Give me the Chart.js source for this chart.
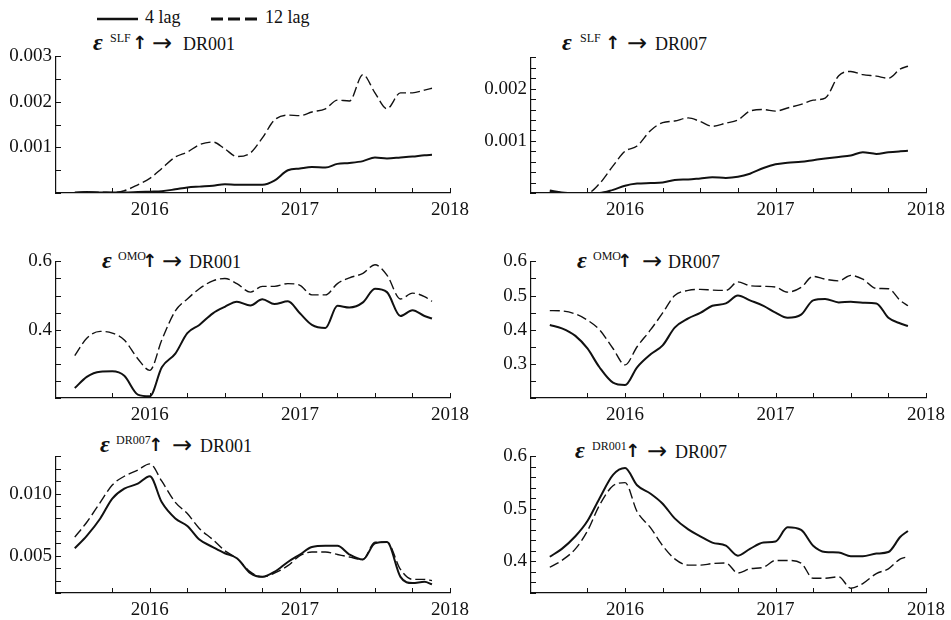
<!DOCTYPE html>
<html>
<head>
<meta charset="utf-8">
<script src="https://cdn.jsdelivr.net/npm/chart.js@4.4.1/dist/chart.umd.min.js"></script>
<style>
  body { margin: 0; background: #fff; }
  #wrap { position: relative; width: 951px; height: 620px; font-family: "Liberation Serif", serif; color: #111; }
  canvas { position: absolute; }
  .ttl span { position: absolute; line-height: 1; white-space: nowrap; }
  .ttl .e { font-style: italic; font-weight: bold; font-size: 24px; }
  .ttl .sup { font-size: 12px; }
  .ttl .up { font-family: "DejaVu Sans", sans-serif; font-weight: bold; font-size: 18px; }
  .ttl .ar { font-family: "DejaVu Sans", sans-serif; font-size: 24px; }
  .ttl .tx { font-size: 18px; }
  .lg { position: absolute; font-size: 18px; line-height: 20px; white-space: nowrap; }
</style>
</head>
<body>
<div id="wrap">
  <!-- legend -->
  <svg class="lg" style="left:96px;top:14px" width="44" height="10"><line x1="1" y1="5" x2="42" y2="5" stroke="#111" stroke-width="2.5"/></svg>
  <div class="lg" style="left:145px;top:7px">4 lag</div>
  <svg class="lg" style="left:210px;top:14px" width="50" height="10"><line x1="1" y1="5" x2="49" y2="5" stroke="#111" stroke-width="3" stroke-dasharray="12,5"/></svg>
  <div class="lg" style="left:265px;top:7px">12 lag</div>

  <div id="titles" class="ttl"></div>

  <canvas id="p1"></canvas>
  <canvas id="p2"></canvas>
  <canvas id="p3"></canvas>
  <canvas id="p4"></canvas>
  <canvas id="p5"></canvas>
  <canvas id="p6"></canvas>
</div>

<script>
// monthly sample dates (decimal years)
const dates = [2015.50, 2015.58, 2015.67, 2015.75, 2015.83, 2015.92, 2016.00, 2016.08, 2016.17, 2016.25,
               2016.33, 2016.42, 2016.50, 2016.58, 2016.67, 2016.75, 2016.83, 2016.92, 2017.00, 2017.08,
               2017.17, 2017.25, 2017.33, 2017.42, 2017.50, 2017.58, 2017.67, 2017.75, 2017.83, 2017.88];
const yearTicks = [2016, 2017, 2018];

// SLF -> DR001
const slfDr001Lag4 = [0.00001, 0.00002, 0.00001, 0.00001, 0.00001, 0.00002, 0.00003, 0.00004, 0.00008, 0.00012,
                      0.00014, 0.00016, 0.00019, 0.00018, 0.00018, 0.00018, 0.00027, 0.00050, 0.00054, 0.00057,
                      0.00056, 0.00064, 0.00066, 0.00070, 0.00078, 0.00076, 0.00078, 0.00080, 0.00083, 0.00084];
const slfDr001Lag12 = [0.00000, 0.00002, 0.00002, 0.00001, 0.00005, 0.00018, 0.00032, 0.00054, 0.00079, 0.00090,
                       0.00106, 0.00112, 0.00097, 0.00080, 0.00088, 0.00121, 0.00160, 0.00171, 0.00170, 0.00178,
                       0.00185, 0.00204, 0.00202, 0.00260, 0.00220, 0.00185, 0.00220, 0.00220, 0.00226, 0.00230];
const slfDr001YLabels = [0.001, 0.002, 0.003];

// SLF -> DR007
const slfDr007Lag4 = [0.00005, 0.00001, 0.00000, 0.00000, 0.00000, 0.00006, 0.00014, 0.00018, 0.00019, 0.00020,
                      0.00025, 0.00026, 0.00028, 0.00030, 0.00029, 0.00031, 0.00037, 0.00048, 0.00055, 0.00058,
                      0.00060, 0.00063, 0.00066, 0.00069, 0.00072, 0.00078, 0.00075, 0.00078, 0.00080, 0.00081];
const slfDr007Lag12 = [0.00003, 0.00001, 0.00000, 0.00000, 0.00018, 0.00052, 0.00080, 0.00090, 0.00120, 0.00135,
                       0.00138, 0.00144, 0.00137, 0.00128, 0.00134, 0.00140, 0.00157, 0.00160, 0.00157, 0.00163,
                       0.00170, 0.00178, 0.00182, 0.00225, 0.00233, 0.00227, 0.00224, 0.00220, 0.00238, 0.00243];
const slfDr007YLabels = [0.001, 0.002];

// OMO -> DR001
const omoDr001Lag4 = [0.229, 0.262, 0.277, 0.278, 0.265, 0.210, 0.205, 0.290, 0.330, 0.390,
                      0.414, 0.448, 0.467, 0.482, 0.471, 0.489, 0.475, 0.483, 0.448, 0.414,
                      0.405, 0.470, 0.465, 0.480, 0.520, 0.510, 0.440, 0.457, 0.440, 0.433];
const omoDr001Lag12 = [0.324, 0.375, 0.395, 0.390, 0.370, 0.315, 0.281, 0.370, 0.455, 0.490,
                       0.520, 0.543, 0.550, 0.535, 0.510, 0.527, 0.527, 0.535, 0.530, 0.502,
                       0.502, 0.535, 0.552, 0.565, 0.590, 0.560, 0.490, 0.507, 0.497, 0.483];
const omoDr001YLabels = [0.4, 0.6];

// OMO -> DR007
const omoDr007Lag4 = [0.414, 0.404, 0.382, 0.345, 0.290, 0.245, 0.238, 0.290, 0.328, 0.354,
                      0.406, 0.433, 0.449, 0.470, 0.477, 0.500, 0.486, 0.470, 0.450, 0.435,
                      0.444, 0.486, 0.490, 0.480, 0.482, 0.479, 0.477, 0.435, 0.418, 0.411];
const omoDr007Lag12 = [0.456, 0.455, 0.446, 0.428, 0.400, 0.345, 0.297, 0.350, 0.400, 0.449,
                       0.500, 0.515, 0.518, 0.516, 0.515, 0.540, 0.529, 0.527, 0.525, 0.510,
                       0.524, 0.556, 0.548, 0.543, 0.559, 0.548, 0.521, 0.520, 0.485, 0.470];
const omoDr007YLabels = [0.3, 0.4, 0.5, 0.6];

// DR007 -> DR001
const dr007Dr001Lag4 = [0.0056, 0.0066, 0.0080, 0.0096, 0.0104, 0.0108, 0.0114, 0.0093, 0.0080, 0.0074,
                        0.0063, 0.0057, 0.0052, 0.0048, 0.0036, 0.0033, 0.0037, 0.0045, 0.0051, 0.0057,
                        0.0058, 0.0058, 0.0051, 0.0047, 0.0060, 0.0061, 0.0033, 0.0028, 0.0029, 0.0027];
const dr007Dr001Lag12 = [0.0065, 0.0077, 0.0093, 0.0107, 0.0114, 0.0119, 0.0124, 0.0110, 0.0093, 0.0084,
                         0.0072, 0.0063, 0.0054, 0.0048, 0.0037, 0.0033, 0.0036, 0.0042, 0.0050, 0.0053,
                         0.0053, 0.0051, 0.0049, 0.0047, 0.0061, 0.0061, 0.0039, 0.0031, 0.0031, 0.0030];
const dr007Dr001YLabels = [0.005, 0.010];

// DR001 -> DR007
const dr001Dr007Lag4 = [0.409, 0.424, 0.448, 0.477, 0.520, 0.565, 0.578, 0.545, 0.529, 0.510,
                        0.482, 0.461, 0.448, 0.436, 0.430, 0.411, 0.424, 0.436, 0.438, 0.465,
                        0.460, 0.430, 0.418, 0.417, 0.410, 0.410, 0.415, 0.418, 0.447, 0.458];
const dr001Dr007Lag12 = [0.389, 0.402, 0.424, 0.458, 0.507, 0.544, 0.550, 0.495, 0.464, 0.430,
                         0.405, 0.393, 0.393, 0.396, 0.397, 0.378, 0.386, 0.389, 0.402, 0.402,
                         0.397, 0.368, 0.368, 0.371, 0.349, 0.358, 0.377, 0.386, 0.405, 0.409];
const dr001Dr007YLabels = [0.4, 0.5, 0.6];

// panel titles: shock name (superscript) and response variable
const titleShocks = ['SLF', 'SLF', 'OMO', 'OMO', 'DR007', 'DR001'];
const titleTargets = ['DR001', 'DR007', 'DR001', 'DR007', 'DR001', 'DR007'];

const PAD_TOP = 12;
const X_AXIS_H = 30;
const Y_AXIS_W = 56;
const FONT = { family: '"Liberation Serif", serif', size: 19 };

const panels = [
  { id: 'p1', left: 0,   width: 475, top: 53,  bottom: 193, lag4: slfDr001Lag4, lag12: slfDr001Lag12, min: 0, max: 0.003, step: 0.0005, labels: slfDr001YLabels, digits: 3,
    tb: 50,  tx: [93, 110, 132, 152, 183] },
  { id: 'p2', left: 475, width: 476, top: 54,  bottom: 193, lag4: slfDr007Lag4, lag12: slfDr007Lag12, min: 0, max: 0.0026, step: 0.0002, labels: slfDr007YLabels, digits: 3,
    tb: 50,  tx: [562, 580, 605, 627, 655] },
  { id: 'p3', left: 0,   width: 475, top: 258, bottom: 398, lag4: omoDr001Lag4, lag12: omoDr001Lag12, min: 0.2, max: 0.6, step: 0.05, labels: omoDr001YLabels, digits: 1,
    tb: 268, tx: [102, 118, 142, 162, 189] },
  { id: 'p4', left: 475, width: 476, top: 258, bottom: 398, lag4: omoDr007Lag4, lag12: omoDr007Lag12, min: 0.2, max: 0.6, step: 0.05, labels: omoDr007YLabels, digits: 1,
    tb: 268, tx: [577, 593, 617, 642, 668] },
  { id: 'p5', left: 0,   width: 475, top: 453, bottom: 593, lag4: dr007Dr001Lag4, lag12: dr007Dr001Lag12, min: 0.002, max: 0.013, step: 0.001, labels: dr007Dr001YLabels, digits: 3,
    tb: 452, tx: [100, 116, 148, 172, 200] },
  { id: 'p6', left: 475, width: 476, top: 453, bottom: 593, lag4: dr001Dr007Lag4, lag12: dr001Dr007Lag12, min: 0.34, max: 0.6, step: 0.02, labels: dr001Dr007YLabels, digits: 1,
    tb: 458, tx: [575, 592, 625, 647, 675] }
];

// build the titles: ε^shock ↑ → target
const titleBox = document.getElementById('titles');
panels.forEach((p, i) => {
  const parts = [
    ['e', 'ε', p.tb - 20],
    ['sup', titleShocks[i], p.tb - 18],
    ['up', '↑', p.tb - 16],
    ['ar', '→', p.tb - 19],
    ['tx', titleTargets[i], p.tb - 15]
  ];
  parts.forEach(([cls, txt, top], k) => {
    const s = document.createElement('span');
    s.className = cls;
    s.textContent = txt;
    s.style.left = p.tx[k] + 'px';
    s.style.top = top + 'px';
    titleBox.appendChild(s);
  });
});

// tick marks pointing into the plot, like the original figure
const innerTicks = {
  id: 'innerTicks',
  afterDraw(chart, args, opts) {
    const { ctx, chartArea: a, scales: { x, y } } = chart;
    ctx.save();
    ctx.strokeStyle = '#111';
    ctx.lineWidth = 1;
    ctx.beginPath();
    x.ticks.forEach(t => {
      if (Math.abs(t.value * 4 - Math.round(t.value * 4)) > 1e-6) return;
      const px = Math.round(x.getPixelForValue(t.value)) + 0.5;
      ctx.moveTo(px, a.bottom);
      ctx.lineTo(px, a.bottom - 5);
    });
    y.ticks.forEach(t => {
      const r = t.value / opts.step;
      if (Math.abs(r - Math.round(r)) > 1e-6) return;
      const py = Math.round(y.getPixelForValue(t.value)) + 0.5;
      ctx.moveTo(a.left, py);
      ctx.lineTo(a.left + 5, py);
    });
    ctx.stroke();
    ctx.restore();
  }
};

panels.forEach(p => {
  const canvas = document.getElementById(p.id);
  canvas.width = p.width;
  canvas.height = (p.bottom - p.top) + PAD_TOP + X_AXIS_H;
  canvas.style.left = p.left + 'px';
  canvas.style.top = (p.top - PAD_TOP) + 'px';

  const rightPad = p.width - 453;

  new Chart(canvas, {
    type: 'line',
    data: {
      datasets: [
        {
          label: '4 lag',
          data: dates.map((d, i) => ({ x: d, y: p.lag4[i] })),
          borderColor: '#111',
          borderWidth: 2,
          pointRadius: 0,
          cubicInterpolationMode: 'monotone',
          fill: false
        },
        {
          label: '12 lag',
          data: dates.map((d, i) => ({ x: d, y: p.lag12[i] })),
          borderColor: '#111',
          borderWidth: 1.4,
          borderDash: [10, 4],
          pointRadius: 0,
          cubicInterpolationMode: 'monotone',
          fill: false
        }
      ]
    },
    options: {
      responsive: false,
      animation: false,
      events: [],
      layout: { padding: { top: PAD_TOP, right: rightPad, left: 0, bottom: 0 } },
      plugins: {
        legend: { display: false },
        tooltip: { enabled: false },
        innerTicks: { step: p.step }
      },
      scales: {
        x: {
          type: 'linear',
          min: 2015.375,
          max: 2018,
          afterFit(s) { s.height = X_AXIS_H; },
          grid: { display: false, drawTicks: false },
          border: { color: '#111', width: 1.2 },
          ticks: {
            stepSize: 0.25,
            autoSkip: false,
            maxRotation: 0,
            padding: 6,
            color: '#111',
            font: FONT,
            callback(v) {
              const yr = yearTicks.find(t => Math.abs(t - v) < 1e-6);
              return yr ? String(yr) : '';
            }
          }
        },
        y: {
          min: p.min,
          max: p.max,
          afterFit(s) { s.width = Y_AXIS_W; },
          grid: { display: false, drawTicks: false },
          border: { color: '#111', width: 1.2 },
          ticks: {
            stepSize: p.step,
            autoSkip: false,
            padding: 4,
            color: '#111',
            font: FONT,
            callback(v) {
              const lb = p.labels.find(t => Math.abs(t - v) < p.step * 1e-3);
              return lb !== undefined ? lb.toFixed(p.digits) : '';
            }
          }
        }
      }
    },
    plugins: [innerTicks]
  });
});
</script>
</body>
</html>
